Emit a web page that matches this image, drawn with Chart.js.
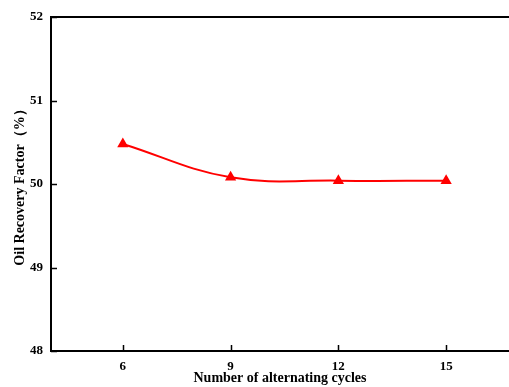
<!DOCTYPE html>
<html>
<head>
<meta charset="utf-8">
<script src="https://cdn.jsdelivr.net/npm/chart.js@4.4.1/dist/chart.umd.min.js"></script>
<style>
  html, body { margin: 0; padding: 0; background: #fff; }
  #wrap { width: 509px; height: 387px; }
</style>
</head>
<body>
<div id="wrap"><canvas id="c" width="509" height="387"></canvas></div>
<script>
// Number of alternating cycles vs. oil recovery factor
const cycles = [6, 9, 12, 15];
const recovery = [50.48, 50.08, 50.04, 50.04];
const xTicks = [6, 9, 12, 15];
const yTicks = [48, 49, 50, 51, 52];

const FONT = "'Liberation Serif', 'Times New Roman', serif";

// Inward tick marks on both axes plus the top frame line
const frame = {
  id: 'frame',
  afterDraw(chart) {
    const ctx = chart.ctx;
    const a = chart.chartArea;
    const x = chart.scales.x, y = chart.scales.y;
    ctx.save();
    ctx.strokeStyle = '#000';
    ctx.lineWidth = 2;
    ctx.beginPath();
    ctx.moveTo(a.left - 1, a.top);
    ctx.lineTo(chart.width, a.top);
    ctx.stroke();
    ctx.lineWidth = 1.5;
    ctx.beginPath();
    xTicks.forEach(v => {
      const px = Math.round(x.getPixelForValue(v)) + 0.5;
      ctx.moveTo(px, a.bottom);
      ctx.lineTo(px, a.bottom - 6);
    });
    yTicks.forEach(v => {
      const py = Math.round(y.getPixelForValue(v)) + 0.5;
      ctx.moveTo(a.left, py);
      ctx.lineTo(a.left + 6, py);
    });
    ctx.stroke();
    ctx.restore();
  }
};

new Chart(document.getElementById('c'), {
  type: 'line',
  data: {
    datasets: [{
      data: cycles.map((c, i) => ({ x: c, y: recovery[i] })),
      borderColor: '#ff0000',
      backgroundColor: '#ff0000',
      borderWidth: 2,
      tension: 0.4,
      pointStyle: 'triangle',
      pointRadius: 4.5,
      pointHoverRadius: 4.5,
      fill: false
    }]
  },
  options: {
    responsive: false,
    animation: false,
    events: [],
    layout: { autoPadding: false, padding: { top: 17, right: 0, left: 0, bottom: 0 } },
    plugins: { legend: { display: false }, tooltip: { enabled: false } },
    scales: {
      x: {
        type: 'linear',
        min: 4,
        max: 16.75,
        afterBuildTicks(s) { s.ticks = xTicks.map(v => ({ value: v })); },
        afterFit(s) { s.height = 36; },
        grid: { display: false, drawTicks: false },
        border: { display: true, color: '#000', width: 2 },
        ticks: { color: '#000', padding: 8, font: { family: FONT, size: 13, weight: 'bold' } },
        title: {
          display: true,
          text: 'Number of alternating cycles',
          color: '#000',
          padding: { top: 0, bottom: 0 },
          font: { family: FONT, size: 14, weight: 'bold' }
        }
      },
      y: {
        min: 48,
        max: 52,
        afterBuildTicks(s) { s.ticks = yTicks.map(v => ({ value: v })); },
        afterFit(s) { s.width = 51; },
        grid: { display: false, drawTicks: false },
        border: { display: true, color: '#000', width: 2 },
        ticks: { color: '#000', padding: 8, font: { family: FONT, size: 13, weight: 'bold' } },
        title: {
          display: true,
          text: 'Oil Recovery Factor（%）',
          color: '#000',
          padding: { top: 12, bottom: 0 },
          font: { family: FONT, size: 14, weight: 'bold' }
        }
      }
    }
  },
  plugins: [frame]
});
</script>
</body>
</html>
